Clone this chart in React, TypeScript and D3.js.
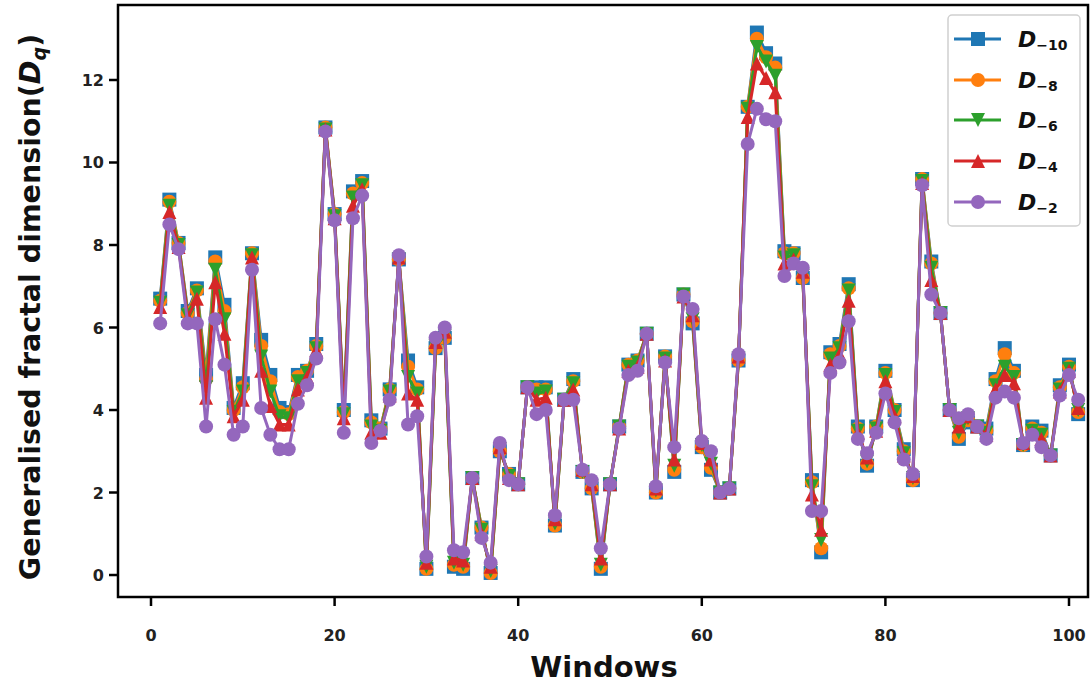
import React from 'react';
import * as d3 from 'd3';

const windows = d3.range(1, 102);

const dm10 = [6.70, 9.10, 8.05, 6.40, 6.95, 4.85, 7.70, 6.55, 4.05, 4.65,
  7.80, 5.70, 4.85, 4.05, 3.95, 4.85, 4.95, 5.60, 10.85, 8.75,
  4.00, 9.30, 9.55, 3.75, 3.55, 4.50, 7.65, 5.20, 4.55, 0.15,
  5.50, 5.75, 0.20, 0.15, 2.35, 1.15, 0.05, 3.00, 2.45, 2.20,
  4.55, 4.55, 4.55, 1.20, 4.25, 4.75, 2.50, 2.10, 0.15, 2.20,
  3.60, 5.10, 5.20, 5.85, 2.00, 5.30, 2.50, 6.80, 6.10, 3.10,
  2.55, 2.00, 2.10, 5.20, 11.35, 13.15, 12.65, 12.40, 7.85, 7.80,
  7.20, 2.30, 0.55, 5.40, 5.60, 7.05, 3.60, 2.65, 3.60, 4.95,
  4.00, 3.05, 2.30, 9.60, 7.60, 6.35, 4.00, 3.30, 3.70, 3.60,
  3.55, 4.75, 5.50, 4.95, 3.15, 3.60, 3.50, 2.90, 4.60, 5.10, 3.90];

const dm8 = [6.65, 9.05, 8.05, 6.35, 6.90, 4.75, 7.60, 6.40, 4.00, 4.55,
  7.80, 5.55, 4.70, 3.95, 3.90, 4.80, 4.95, 5.55, 10.85, 8.75,
  3.95, 9.25, 9.50, 3.70, 3.55, 4.50, 7.65, 5.05, 4.50, 0.15,
  5.50, 5.75, 0.25, 0.20, 2.35, 1.15, 0.05, 3.00, 2.45, 2.20,
  4.55, 4.50, 4.50, 1.20, 4.25, 4.70, 2.50, 2.10, 0.20, 2.20,
  3.60, 5.10, 5.20, 5.85, 2.00, 5.30, 2.55, 6.80, 6.15, 3.10,
  2.60, 2.00, 2.10, 5.20, 11.35, 13.00, 12.55, 12.30, 7.80, 7.80,
  7.20, 2.25, 0.65, 5.35, 5.55, 6.95, 3.55, 2.70, 3.60, 4.90,
  4.00, 3.00, 2.30, 9.60, 7.55, 6.35, 4.00, 3.35, 3.75, 3.60,
  3.50, 4.70, 5.35, 4.90, 3.15, 3.55, 3.45, 2.90, 4.55, 5.05, 3.95];

const dm6 = [6.60, 8.95, 8.00, 6.30, 6.85, 4.55, 7.40, 6.20, 3.95, 4.45,
  7.75, 5.30, 4.45, 3.85, 3.80, 4.70, 4.90, 5.50, 10.80, 8.70,
  3.90, 9.15, 9.45, 3.60, 3.50, 4.45, 7.65, 4.80, 4.40, 0.20,
  5.55, 5.80, 0.30, 0.25, 2.35, 1.10, 0.10, 3.05, 2.40, 2.20,
  4.55, 4.40, 4.45, 1.25, 4.25, 4.65, 2.50, 2.15, 0.25, 2.20,
  3.60, 5.05, 5.15, 5.85, 2.05, 5.25, 2.65, 6.80, 6.20, 3.15,
  2.70, 2.00, 2.10, 5.25, 11.30, 12.80, 12.45, 12.10, 7.70, 7.75,
  7.25, 2.15, 0.85, 5.25, 5.50, 6.90, 3.50, 2.75, 3.55, 4.85,
  3.95, 2.95, 2.35, 9.55, 7.45, 6.35, 4.00, 3.45, 3.80, 3.60,
  3.45, 4.60, 5.05, 4.80, 3.15, 3.50, 3.40, 2.90, 4.50, 5.00, 4.00];

const dm4 = [6.50, 8.80, 7.95, 6.25, 6.70, 4.30, 7.10, 5.85, 3.85, 4.25,
  7.70, 4.95, 4.10, 3.65, 3.65, 4.50, 4.80, 5.45, 10.80, 8.65,
  3.80, 8.95, 9.35, 3.45, 3.45, 4.35, 7.70, 4.40, 4.25, 0.30,
  5.65, 5.90, 0.40, 0.35, 2.35, 1.00, 0.20, 3.10, 2.35, 2.20,
  4.55, 4.25, 4.30, 1.35, 4.25, 4.50, 2.55, 2.20, 0.40, 2.20,
  3.55, 4.95, 5.05, 5.85, 2.10, 5.20, 2.80, 6.75, 6.30, 3.20,
  2.80, 2.00, 2.10, 5.30, 11.10, 12.40, 12.05, 11.70, 7.55, 7.65,
  7.35, 1.95, 1.10, 5.10, 5.35, 6.65, 3.45, 2.85, 3.50, 4.70,
  3.85, 2.90, 2.40, 9.50, 7.15, 6.35, 4.00, 3.60, 3.85, 3.60,
  3.40, 4.50, 4.85, 4.65, 3.20, 3.45, 3.30, 2.90, 4.45, 4.95, 4.05];

const dm2 = [6.10, 8.50, 7.90, 6.10, 6.10, 3.60, 6.20, 5.10, 3.40, 3.60,
  7.40, 4.05, 3.40, 3.05, 3.05, 4.15, 4.60, 5.25, 10.75, 8.60,
  3.45, 8.65, 9.20, 3.20, 3.50, 4.25, 7.75, 3.65, 3.85, 0.45,
  5.75, 6.00, 0.60, 0.55, 2.35, 0.90, 0.30, 3.20, 2.30, 2.20,
  4.55, 3.90, 4.00, 1.45, 4.25, 4.25, 2.55, 2.30, 0.65, 2.20,
  3.55, 4.85, 4.95, 5.85, 2.15, 5.15, 3.10, 6.75, 6.45, 3.25,
  3.00, 2.00, 2.10, 5.35, 10.45, 11.30, 11.05, 11.00, 7.25, 7.55,
  7.45, 1.55, 1.55, 4.90, 5.15, 6.15, 3.30, 2.95, 3.45, 4.40,
  3.70, 2.80, 2.45, 9.45, 6.80, 6.35, 4.00, 3.80, 3.90, 3.60,
  3.30, 4.30, 4.45, 4.30, 3.20, 3.40, 3.10, 2.90, 4.35, 4.85, 4.25];

const seriesLabels = ['\u221210', '\u22128', '\u22126', '\u22124', '\u22122'];
const seriesColors = ['#1f77b4', '#ff7f0e', '#2ca02c', '#d62728', '#9467bd'];
const seriesMarkers = ['square', 'circle', 'tridown', 'triup', 'circle'];
const seriesValues = [dm10, dm8, dm6, dm4, dm2];

const xTicks = [0, 20, 40, 60, 80, 100];
const yTicks = [0, 2, 4, 6, 8, 10, 12];

function Marker({ cx, cy, kind, color }: { cx: number; cy: number; kind: string; color: string }) {
  const m = 14;
  const h = m / 2;
  if (kind === 'square') return <rect x={cx - h} y={cy - h} width={m} height={m} fill={color} />;
  if (kind === 'circle') return <circle cx={cx} cy={cy} r={h} fill={color} />;
  if (kind === 'triup')
    return <path d={`M${cx},${cy - h}L${cx + h},${cy + h}L${cx - h},${cy + h}Z`} fill={color} />;
  return <path d={`M${cx},${cy + h}L${cx + h},${cy - h}L${cx - h},${cy - h}Z`} fill={color} />;
}

export default function App() {
  const W = 1091, H = 684;
  const left = 118, right = 1088, top = 5, bottom = 597;
  const x = d3.scaleLinear().domain([-3.595, 102.07]).range([left, right]);
  const y = d3.scaleLinear().domain([-0.533, 13.818]).range([bottom, top]);
  const line = d3.line<number>().x((_, i) => x(windows[i])).y((d) => y(d));
  const font = 'DejaVu Sans, sans-serif';

  const legX = 948, legY = 15, legW = 132, legH = 211;
  const rowY = [39, 80, 120, 161, 202];

  return (
    <svg width={W} height={H} style={{ position: 'absolute', left: 0, top: 0, background: '#fff' }}
      fontFamily={font}>
      <rect x={0} y={0} width={W} height={H} fill="#fff" />
      <defs>
        <clipPath id="plotclip">
          <rect x={left} y={top} width={right - left} height={bottom - top} />
        </clipPath>
      </defs>
      <g clipPath="url(#plotclip)">
        {seriesValues.map((vals, si) => (
          <g key={si}>
            <path d={line(vals) || ''} fill="none" stroke={seriesColors[si]} strokeWidth={3}
              strokeLinejoin="round" strokeLinecap="round" />
            {vals.map((v, i) => (
              <Marker key={i} cx={x(windows[i])} cy={y(v)} kind={seriesMarkers[si]} color={seriesColors[si]} />
            ))}
          </g>
        ))}
      </g>

      {/* frame */}
      <rect x={left} y={top} width={right - left} height={bottom - top} fill="none" stroke="#000" strokeWidth={2.5} />

      {/* x ticks */}
      {xTicks.map((t) => (
        <g key={t}>
          <line x1={x(t)} x2={x(t)} y1={bottom} y2={bottom + 9} stroke="#000" strokeWidth={2.5} />
          <text x={x(t)} y={641} textAnchor="middle" fontSize={16} fontWeight="bold" fill="#222">{t}</text>
        </g>
      ))}
      {/* y ticks */}
      {yTicks.map((t) => (
        <g key={t}>
          <line x1={left - 9} x2={left} y1={y(t)} y2={y(t)} stroke="#000" strokeWidth={2.5} />
          <text x={left - 14} y={y(t) + 6} textAnchor="end" fontSize={16} fontWeight="bold" fill="#222">{t}</text>
        </g>
      ))}

      {/* axis labels */}
      <text x={604} y={677} textAnchor="middle" fontSize={29} fontWeight="bold" fill="#111">Windows</text>
      <text transform={`translate(40,307) rotate(-90)`} textAnchor="middle"
        fontSize={28.5} fontWeight="bold" fill="#111">
        Generalised fractal dimension(
        <tspan fontStyle="italic">D</tspan>
        <tspan fontStyle="italic" fontSize={19} dy={6}>q</tspan>
        <tspan dy={-6}>)</tspan>
      </text>

      {/* legend */}
      <rect x={legX} y={legY} width={legW} height={legH} rx={4} fill="#fff" fillOpacity={0.85}
        stroke="#d0d0d0" strokeWidth={1.5} />
      {seriesLabels.map((lab, si) => (
        <g key={si}>
          <line x1={954} x2={1001} y1={rowY[si]} y2={rowY[si]} stroke={seriesColors[si]} strokeWidth={3} />
          <Marker cx={978} cy={rowY[si]} kind={seriesMarkers[si]} color={seriesColors[si]} />
          <text x={1018} y={rowY[si] + 8} fontSize={22} fontWeight="bold" fill="#111">
            <tspan fontStyle="italic">D</tspan>
            <tspan fontSize={14} dy={3}>{lab}</tspan>
          </text>
        </g>
      ))}
    </svg>
  );
}
